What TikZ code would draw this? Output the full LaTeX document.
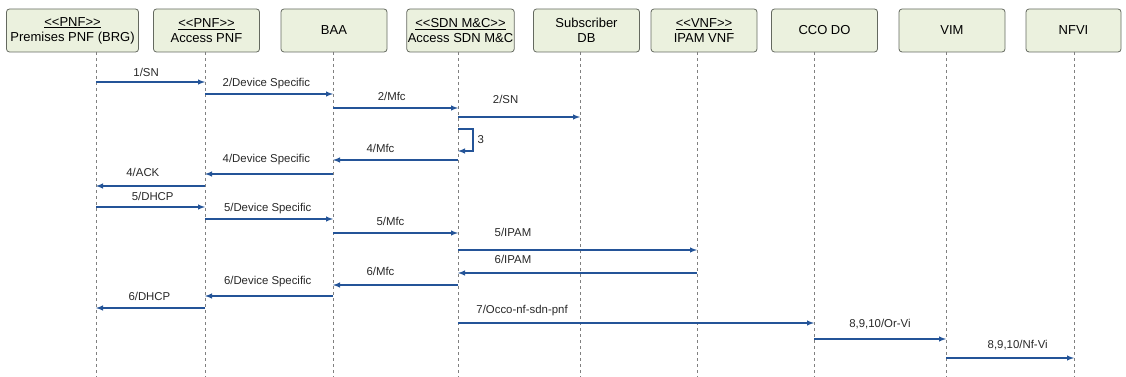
\documentclass[tikz,border=0pt]{standalone}
\usepackage{fontspec}
\setmainfont{Liberation Sans}[Ligatures=TeXOff]
\usetikzlibrary{arrows}
\usetikzlibrary{positioning}
\definecolor{boxfill}{RGB}{235,241,222}
\definecolor{boxline}{RGB}{100,105,95}
\definecolor{msgblue}{RGB}{36,84,152}
\definecolor{lblgray}{RGB}{40,40,40}

\begin{document}
\begin{tikzpicture}[x=1pt,y=-1pt,>=latex,
  actor/.style={rectangle,rounded corners=3pt,fill=boxfill,draw=boxline,line width=0.8pt,
    minimum width=106pt,minimum height=43pt,inner sep=1pt,align=center,
    font=\fontsize{13}{15}\selectfont},
  life/.style={draw=gray,dashed,line width=0.7pt},
  msg/.style={->,draw=msgblue,line width=1.4pt},
  lbl/.style={font=\fontsize{11.4}{13}\selectfont,text=lblgray,inner sep=0pt}]

  \useasboundingbox (0,0) rectangle (1126,377);

  \node[actor,minimum width=132pt] (brgbox) at (72.5,30.5) {\underline{<<PNF>>}\\Premises PNF (BRG)};
  \node[actor] (apnfbox) at (206.5,30.5) {\underline{<<PNF>>}\\Access PNF};
  \node[actor] (baabox) at (334,30.5) {BAA};
  \node[actor] (sdnbox) at (460.5,30.5) {\underline{<<SDN M\&C>>}\\Access SDN M\&C};
  \node[actor] (sdbbox) at (586.5,30.5) {Subscriber\\DB};
  \node[actor] (ipambox) at (704,30.5) {\underline{<<VNF>>}\\IPAM VNF};
  \node[actor] (ccobox) at (824.5,30.5) {CCO DO};
  \node[actor] (vimbox) at (952,30.5) {VIM};
  \node[actor,minimum width=95pt] (nfvibox) at (1073.5,30.5) {NFVI};

  \coordinate (brg) at (96,52);
  \coordinate (apnf) at (205,52);
  \coordinate (baa) at (333,52);
  \coordinate (sdn) at (458,52);
  \coordinate (sdb) at (580,52);
  \coordinate (ipam) at (697,52);
  \coordinate (cco) at (814,52);
  \coordinate (vim) at (946,52);
  \coordinate (nfvi) at (1074,52);
  \coordinate (end) at (0,377);

  \foreach \l in {brg,apnf,baa,sdn,sdb,ipam,cco,vim,nfvi}
    \draw[life] (\l) -- (\l |- end);

  \coordinate (m1) at (0,82);
  \coordinate (m2) at (0,94);
  \coordinate (m3) at (0,108);
  \coordinate (m4) at (0,117);
  \coordinate (s3a) at (0,129);
  \coordinate (s3b) at (0,151);
  \coordinate (m5) at (0,160);
  \coordinate (m6) at (0,174);
  \coordinate (m7) at (0,186);
  \coordinate (m8) at (0,207);
  \coordinate (m9) at (0,219);
  \coordinate (m10) at (0,233);
  \coordinate (m11) at (0,250);
  \coordinate (m12) at (0,273);
  \coordinate (m13) at (0,285);
  \coordinate (m14) at (0,296);
  \coordinate (m15) at (0,308);
  \coordinate (m16) at (0,323);
  \coordinate (m17) at (0,339);
  \coordinate (m18) at (0,358);

  \draw[msg] (brg |- m1) -- node[lbl,pos=.46,above=5pt] {1/SN} (apnf |- m1);
  \draw[msg] (apnf |- m2) -- node[lbl,pos=.48,above=4pt] {2/Device Specific} (baa |- m2);
  \draw[msg] (baa |- m3) -- node[lbl,pos=.47,above=7pt] {2/Mfc} (sdn |- m3);
  \draw[msg] (sdn |- m4) -- node[lbl,pos=.39,above=13pt] {2/SN} (sdb |- m4);
  \draw[msg] (sdn |- s3a) -- ++(15,0) |- node[lbl,pos=.25,right=4pt] {3} (sdn |- s3b);
  \draw[msg] (sdn |- m5) -- node[lbl,pos=.62,above=7pt] {4/Mfc} (baa |- m5);
  \draw[msg] (baa |- m6) -- node[lbl,pos=.52,above=8pt] {4/Device Specific} (apnf |- m6);
  \draw[msg] (apnf |- m7) -- node[lbl,pos=.57,above=9pt] {4/ACK} (brg |- m7);
  \draw[msg] (brg |- m8) -- node[lbl,pos=.52,above=6pt] {5/DHCP} (apnf |- m8);
  \draw[msg] (apnf |- m9) -- node[lbl,pos=.49,above=4pt] {5/Device Specific} (baa |- m9);
  \draw[msg] (baa |- m10) -- node[lbl,pos=.46,above=7pt] {5/Mfc} (sdn |- m10);
  \draw[msg] (sdn |- m11) -- node[lbl,pos=.23,above=13pt] {5/IPAM} (ipam |- m11);
  \draw[msg] (ipam |- m12) -- node[lbl,pos=.77,above=9pt] {6/IPAM} (sdn |- m12);
  \draw[msg] (sdn |- m13) -- node[lbl,pos=.62,above=9pt] {6/Mfc} (baa |- m13);
  \draw[msg] (baa |- m14) -- node[lbl,pos=.51,above=8pt] {6/Device Specific} (apnf |- m14);
  \draw[msg] (apnf |- m15) -- node[lbl,pos=.51,above=7pt] {6/DHCP} (brg |- m15);
  \draw[msg] (sdn |- m16) -- node[lbl,pos=.18,above=6pt] {7/Occo-nf-sdn-pnf} (cco |- m16);
  \draw[msg] (cco |- m17) -- node[lbl,pos=.5,above=9pt] {8,9,10/Or-Vi} (vim |- m17);
  \draw[msg] (vim |- m18) -- node[lbl,pos=.56,above=7pt] {8,9,10/Nf-Vi} (nfvi |- m18);

\end{tikzpicture}
\end{document}
